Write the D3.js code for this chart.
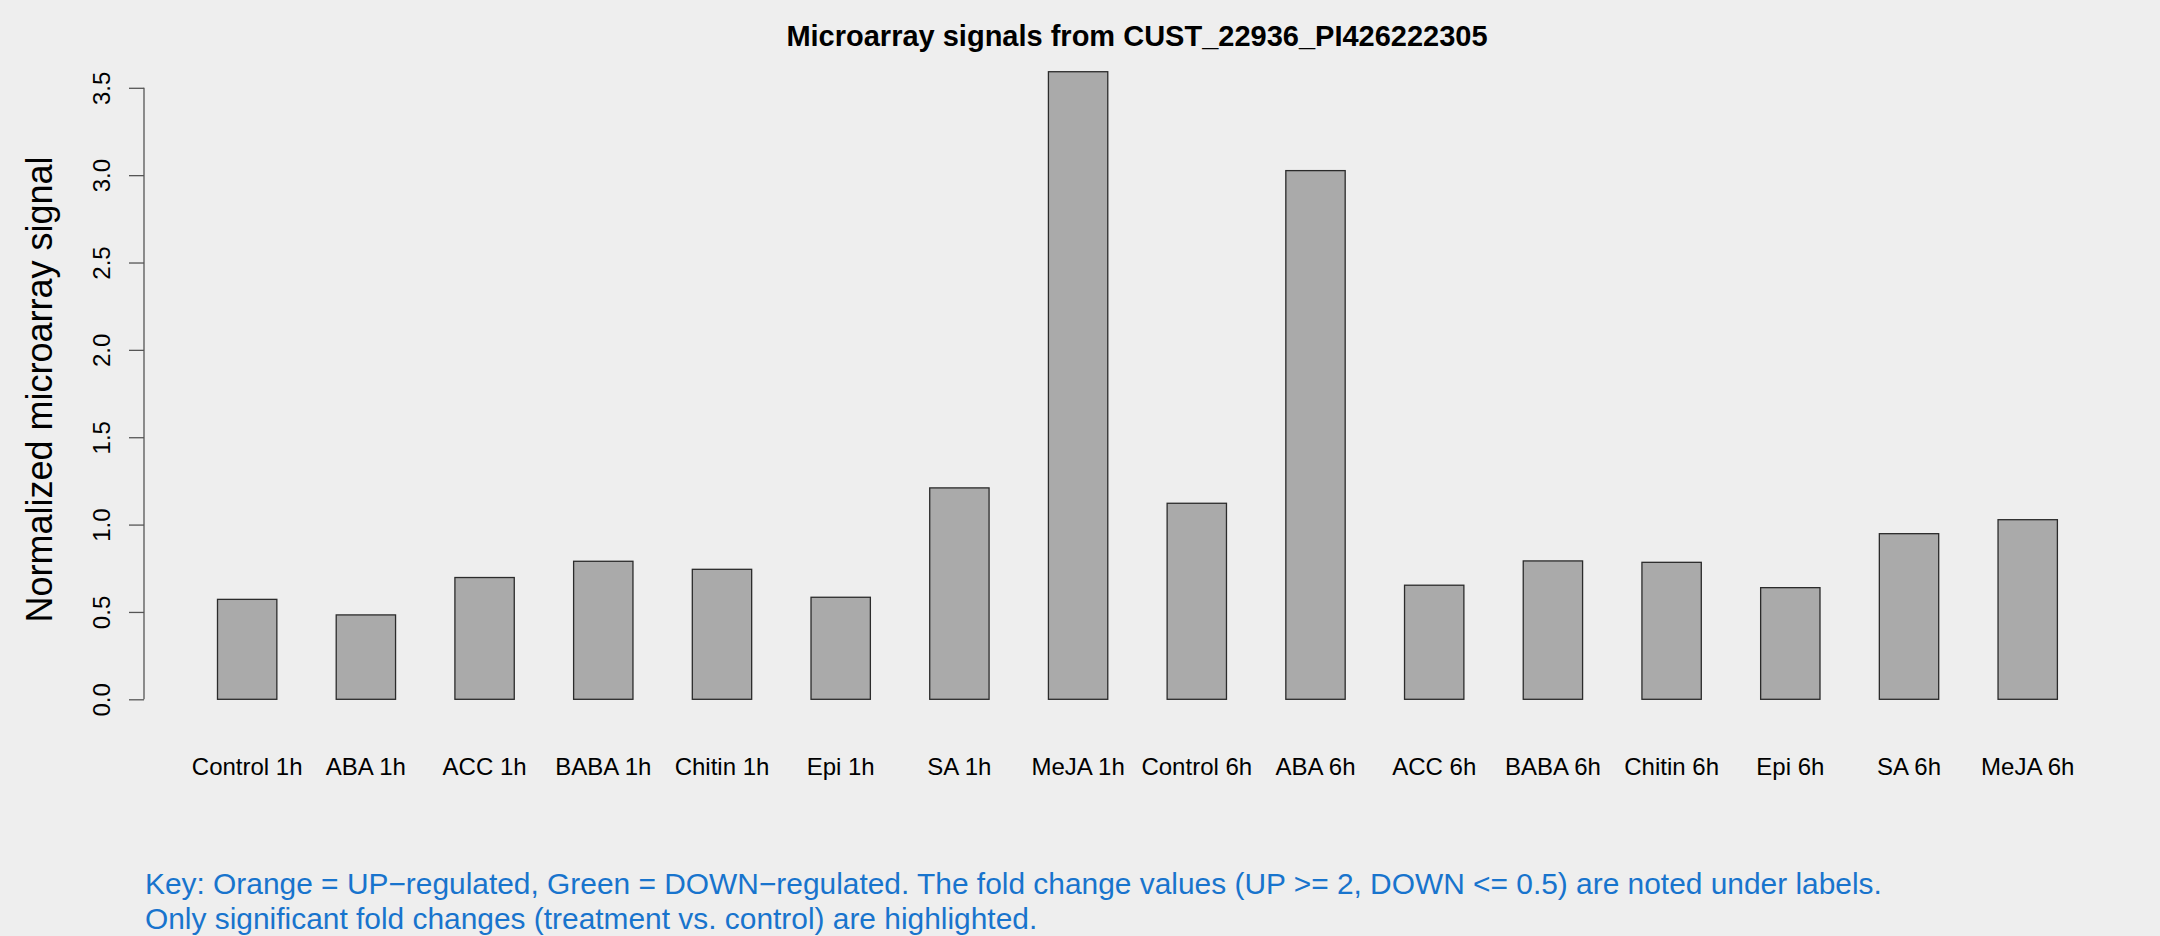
<!DOCTYPE html>
<html>
<head>
<meta charset="utf-8">
<script src="https://cdn.jsdelivr.net/npm/d3@7"></script>
<style>
  html, body { margin: 0; padding: 0; background: #eeeeee; }
  svg { display: block; }
  text { font-family: "Liberation Sans", Arial, Helvetica, sans-serif; }
</style>
</head>
<body>
<script>
const categories = ["Control 1h", "ABA 1h", "ACC 1h", "BABA 1h", "Chitin 1h", "Epi 1h", "SA 1h", "MeJA 1h",
                    "Control 6h", "ABA 6h", "ACC 6h", "BABA 6h", "Chitin 6h", "Epi 6h", "SA 6h", "MeJA 6h"];
const values = [0.572, 0.483, 0.697, 0.790, 0.744, 0.584, 1.210, 3.592,
                1.122, 3.026, 0.653, 0.792, 0.784, 0.639, 0.948, 1.028];
const yTicks = [0, 0.5, 1.0, 1.5, 2.0, 2.5, 3.0, 3.5];
const titleText = "Microarray signals from CUST_22936_PI426222305";
const yLabel = "Normalized microarray signal";
const keyLines = [
  "Key: Orange = UP\u2212regulated, Green = DOWN\u2212regulated. The fold change values (UP >= 2, DOWN <= 0.5) are noted under labels.",
  "Only significant fold changes (treatment vs. control) are highlighted."
];

const W = 2160, H = 936;
const svg = d3.select("body").append("svg").attr("width", W).attr("height", H);
svg.append("rect").attr("width", W).attr("height", H).attr("fill", "#eeeeee");

const x = d3.scaleBand().domain(categories).range([217.5, 2057.4]).paddingInner(0.5).paddingOuter(0);
const y = d3.scaleLinear().domain([0, 3.5]).range([699.3, 87.8]);

// bars
svg.append("g").selectAll("rect").data(values).join("rect")
  .attr("x", (d, i) => x(categories[i]))
  .attr("y", d => y(d))
  .attr("width", x.bandwidth())
  .attr("height", d => y(0) - y(d))
  .attr("fill", "#aaaaaa")
  .attr("stroke", "#2b2b2b")
  .attr("stroke-width", 1.3);

// y axis
const yAxis = d3.axisLeft(y).tickValues(yTicks).tickSize(15).tickPadding(0)
  .tickFormat(d3.format(".1f"));
const ga = svg.append("g").attr("transform", "translate(144,0)").call(yAxis);
ga.select(".domain").attr("stroke", "#555555").attr("stroke-width", 1.3)
  .attr("d", `M0,${y(0)}V${y(3.5)}`);
ga.selectAll(".tick line").attr("stroke", "#555555").attr("stroke-width", 1.3);
ga.selectAll(".tick text")
  .attr("x", 0).attr("y", 0).attr("dy", null)
  .attr("transform", "translate(-34,0) rotate(-90)")
  .attr("text-anchor", "middle")
  .attr("font-size", 24)
  .attr("fill", "#000");

// x labels
const gx = svg.append("g").attr("transform", `translate(0,${y(0)})`)
  .call(d3.axisBottom(x).tickSize(0).tickPadding(0));
gx.select(".domain").remove();
gx.selectAll(".tick text").attr("y", 76).attr("dy", null)
  .attr("font-size", 24).attr("fill", "#000");

// title
svg.append("text").attr("x", 1137).attr("y", 45.7).attr("text-anchor", "middle")
  .attr("font-size", 29).attr("font-weight", "bold").text(titleText);

// y label
svg.append("text").attr("transform", `translate(52,${(y(0) + y(3.5)) / 2 - 4}) rotate(-90)`)
  .attr("text-anchor", "middle").attr("font-size", 36).text(yLabel);

// key
svg.append("g").selectAll("text").data(keyLines).join("text")
  .attr("x", 145).attr("y", (d, i) => 894 + i * 35)
  .attr("font-size", 29.9).attr("fill", "#1874CD").text(d => d);
</script>
</body>
</html>
